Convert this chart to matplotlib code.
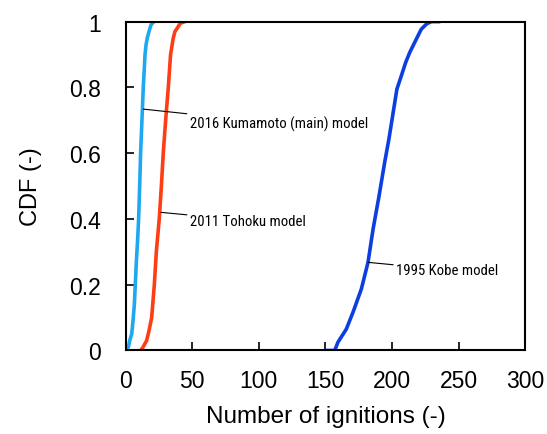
import matplotlib
matplotlib.use('Agg')
import matplotlib.pyplot as plt
import numpy as np

plt.rcParams['font.family'] = ['Liberation Sans', 'DejaVu Sans']

# CDF curves (number of ignitions, cumulative probability)
kumamoto_x = [0, 2, 3, 4.5, 5.5, 6.5, 7.2, 8, 9, 9.7, 10.5, 11.2, 12, 12.6, 13.2, 14, 14.5, 15.3, 16.2, 17.5, 19, 21.2]
kumamoto_cdf = [0, 0.01, 0.03, 0.05, 0.09, 0.14, 0.2, 0.27, 0.34, 0.4, 0.5, 0.6, 0.68, 0.74, 0.8, 0.86, 0.9, 0.93, 0.95, 0.97, 0.99, 1.0]

tohoku_x = [11.2, 13, 15.7, 17.5, 19.5, 21.5, 23, 25.2, 26.8, 28.2, 30, 32, 33.7, 35.7, 37, 38.7, 41, 44.5]
tohoku_cdf = [0, 0.01, 0.03, 0.06, 0.1, 0.2, 0.3, 0.4, 0.5, 0.6, 0.7, 0.8, 0.9, 0.95, 0.97, 0.98, 0.995, 1.0]

kobe_x = [150.5, 157, 159.4, 165.7, 170.7, 177, 182, 185.8, 190.3, 194.5, 197.7, 201.3, 203.7, 207, 210.3, 213.3, 218.3, 222, 226, 229.5, 235]
kobe_cdf = [0, 0, 0.025, 0.065, 0.116, 0.187, 0.268, 0.369, 0.47, 0.572, 0.643, 0.734, 0.795, 0.835, 0.876, 0.906, 0.947, 0.977, 0.993, 1.0, 1.0]

fig = plt.figure(figsize=(5.47, 4.35), dpi=100)
ax = fig.add_axes([0.2298, 0.192, 0.7302, 0.756])

ax.plot(kumamoto_x, kumamoto_cdf, color='#1ea8f0', lw=2.6, solid_joinstyle='round')
ax.plot(tohoku_x, tohoku_cdf, color='#ff3d14', lw=2.6, solid_joinstyle='round')
ax.plot(kobe_x, kobe_cdf, color='#0c3ee0', lw=2.6, solid_joinstyle='round')

# labels with leader lines
ann_font = ['Roboto Condensed', 'Liberation Sans', 'DejaVu Sans']
ax.annotate('2016 Kumamoto (main) model', xy=(13.2, 0.734), xytext=(48, 0.69),
            fontsize=10.6, family=ann_font, va='center', ha='left',
            arrowprops=dict(arrowstyle='-', color='black', lw=0.8, shrinkA=0, shrinkB=0))
ax.annotate('2011 Tohoku model', xy=(26.5, 0.42), xytext=(48, 0.395),
            fontsize=10.6, family=ann_font, va='center', ha='left',
            arrowprops=dict(arrowstyle='-', color='black', lw=0.8, shrinkA=0, shrinkB=0))
ax.annotate('1995 Kobe model', xy=(182, 0.268), xytext=(203, 0.245),
            fontsize=10.6, family=ann_font, va='center', ha='left',
            arrowprops=dict(arrowstyle='-', color='black', lw=0.8, shrinkA=0, shrinkB=0))

ax.set_xlim(0, 300)
ax.set_ylim(0, 1)
ax.set_xticks(np.arange(0, 301, 50))
ax.set_yticks([0, 0.2, 0.4, 0.6, 0.8, 1.0])
ax.set_yticklabels(['0', '0.2', '0.4', '0.6', '0.8', '1'])
ax.tick_params(direction='in', length=6, width=1.2, labelsize=16.5)
ax.tick_params(axis='y', pad=18)
ax.tick_params(axis='x', pad=13)
for s in ax.spines.values():
    s.set_linewidth(1.5)

ax.set_xlabel('Number of ignitions (-)', fontsize=17.5, labelpad=10)
ax.set_ylabel('CDF (-)', fontsize=17, labelpad=19)

fig.savefig('out.png', dpi=100)
